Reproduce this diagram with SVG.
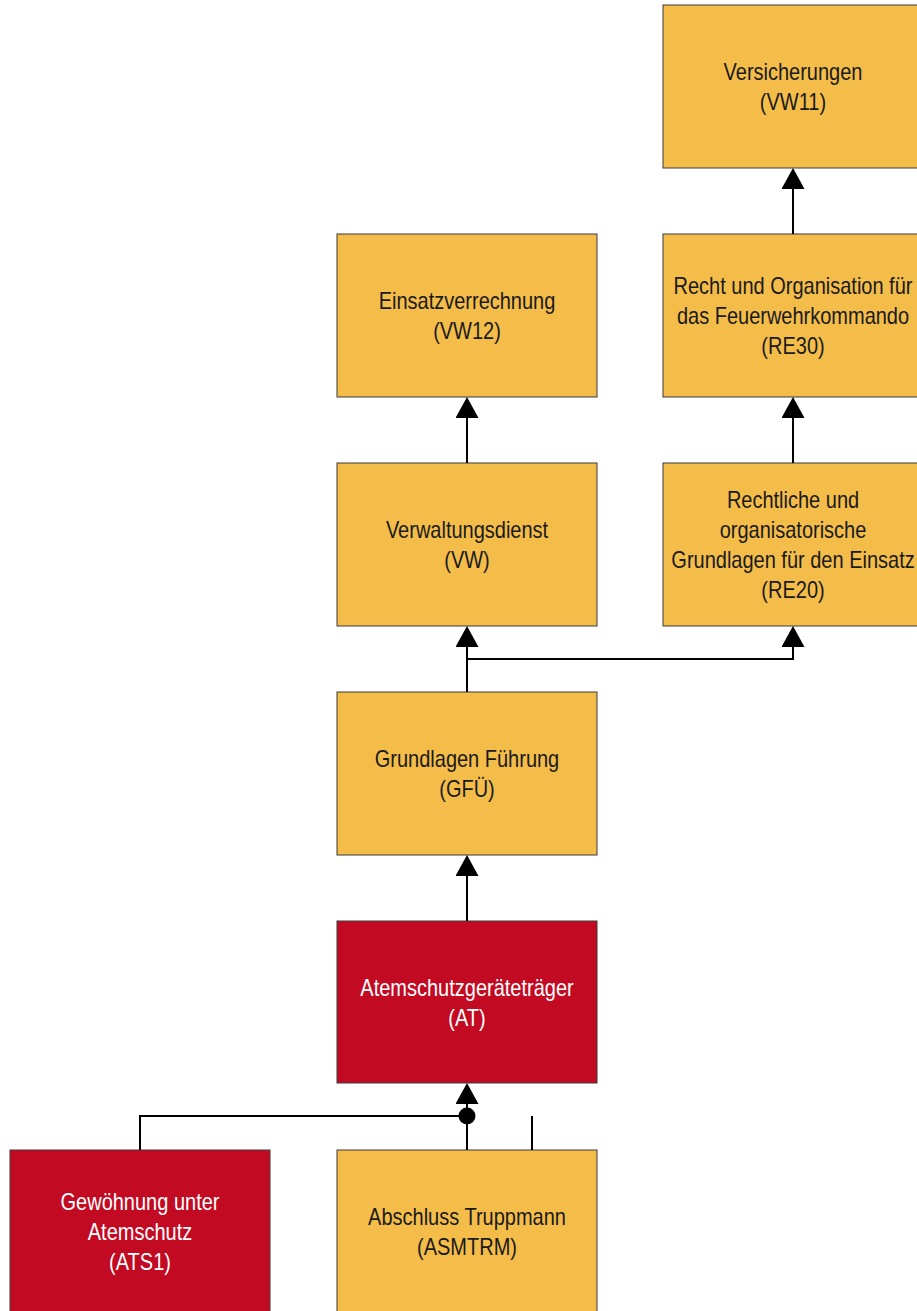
<svg xmlns="http://www.w3.org/2000/svg" width="917" height="1311" viewBox="0 0 917 1311">
<style>
.n rect{stroke:#3a3a3a;stroke-width:1}
.y rect{fill:#F4BD4A}
.r rect{fill:#C30A23}
text{font-family:"Liberation Sans",Arial,sans-serif;font-size:20px;text-anchor:middle}
.y text{fill:#1a1a1a}
.r text{fill:#ffffff}
.c path{fill:none;stroke:#000;stroke-width:2}
</style>
<defs>
<marker id="ah" markerUnits="userSpaceOnUse" markerWidth="21" markerHeight="23" viewBox="0 0 21 23" refX="0" refY="11.5" orient="auto">
<path d="M0,0 L21,11.5 L0,23 z" fill="#000"/>
</marker>
</defs>
<rect width="917" height="1311" fill="#fff"/>
<g id="VW11" class="n y"><rect x="663" y="5" width="260" height="163"/><g transform="translate(793,86.5) scale(1,1.2)"><text y="-5.3">Versicherungen</text><text y="19.7">(VW11)</text></g></g>
<g id="RE30" class="n y"><rect x="663" y="234" width="260" height="163"/><g transform="translate(793,315.5) scale(1,1.2)"><text y="-17.8">Recht und Organisation für</text><text y="7.2">das Feuerwehrkommando</text><text y="32.2">(RE30)</text></g></g>
<g id="VW12" class="n y"><rect x="337" y="234" width="260" height="163"/><g transform="translate(467,315.5) scale(1,1.2)"><text y="-5.3">Einsatzverrechnung</text><text y="19.7">(VW12)</text></g></g>
<g id="RE20" class="n y"><rect x="663" y="463" width="260" height="163"/><g transform="translate(793,544.5) scale(1,1.2)"><text y="-30.3">Rechtliche und</text><text y="-5.3">organisatorische</text><text y="19.7">Grundlagen für den Einsatz</text><text y="44.7">(RE20)</text></g></g>
<g id="VW" class="n y"><rect x="337" y="463" width="260" height="163"/><g transform="translate(467,544.5) scale(1,1.2)"><text y="-5.3">Verwaltungsdienst</text><text y="19.7">(VW)</text></g></g>
<g id="GFU" class="n y"><rect x="337" y="692" width="260" height="163"/><g transform="translate(467,773.5) scale(1,1.2)"><text y="-5.3">Grundlagen Führung</text><text y="19.7">(GFÜ)</text></g></g>
<g id="AT" class="n r"><rect x="337" y="921" width="260" height="162"/><g transform="translate(467,1002) scale(1,1.2)"><text y="-5.3">Atemschutzgeräteträger</text><text y="19.7">(AT)</text></g></g>
<g id="ATS1" class="n r"><rect x="10" y="1150" width="260" height="163"/><g transform="translate(140,1231.5) scale(1,1.2)"><text y="-17.8">Gewöhnung unter</text><text y="7.2">Atemschutz</text><text y="32.2">(ATS1)</text></g></g>
<g id="ASMTRM" class="n y"><rect x="337" y="1150" width="260" height="163"/><g transform="translate(467,1231.5) scale(1,1.2)"><text y="-5.3">Abschluss Truppmann</text><text y="19.7">(ASMTRM)</text></g></g>
<g id="connectors" class="c">
<path d="M793,234 L793,189" marker-end="url(#ah)"/>
<path d="M793,463 L793,418" marker-end="url(#ah)"/>
<path d="M467,463 L467,418" marker-end="url(#ah)"/>
<path d="M467,692 L467,647" marker-end="url(#ah)"/>
<path d="M467,659 L793,659 L793,647" marker-end="url(#ah)"/>
<path d="M467,921 L467,876" marker-end="url(#ah)"/>
<path d="M467,1150 L467,1104" marker-end="url(#ah)"/>
<path d="M140,1150 L140,1116 L460,1116"/>
<path d="M532,1116 L532,1150"/>
<circle cx="467" cy="1116" r="8.5" fill="#000"/>
</g>
</svg>
